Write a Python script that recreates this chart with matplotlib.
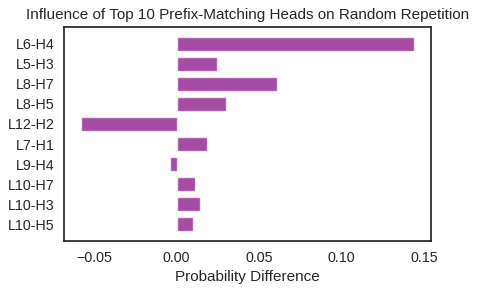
import matplotlib
matplotlib.use("Agg")
import matplotlib.pyplot as plt
import seaborn as sns

heads = ["L6-H4", "L5-H3", "L8-H7", "L8-H5", "L12-H2", "L7-H1", "L9-H4", "L10-H7", "L10-H3", "L10-H5"]
diffs = [0.1439, 0.0244, 0.0610, 0.0299, -0.0580, 0.0183, -0.0037, 0.0110, 0.0140, 0.0098]

sns.set_style("white")
plt.rcParams["font.family"] = ["Liberation Sans", "DejaVu Sans"]

fig = plt.figure(figsize=(4.79, 2.90), dpi=100)
ax = fig.add_axes([0.1336, 0.169, 0.7662, 0.738])
ax.barh(range(len(heads)), diffs, height=0.7, color="purple", alpha=0.7,
        edgecolor="white", linewidth=1)
ax.set_yticks(range(len(heads)))
ax.set_yticklabels(heads)
ax.invert_yaxis()
ax.set_xticks([-0.05, 0.0, 0.05, 0.10, 0.15])
ax.set_xticklabels(["\u22120.05", "0.00", "0.05", "0.10", "0.15"])
ax.tick_params(labelsize=10.3, colors=".15")
ax.set_xlabel("Probability Difference", fontsize=11, color=".15")
ax.set_title("Influence of Top 10 Prefix-Matching Heads on Random Repetition", fontsize=11, color=".15")
for s in ax.spines.values():
    s.set_color(".15")
    s.set_linewidth(1.25)
fig.savefig("out.png", dpi=100)
